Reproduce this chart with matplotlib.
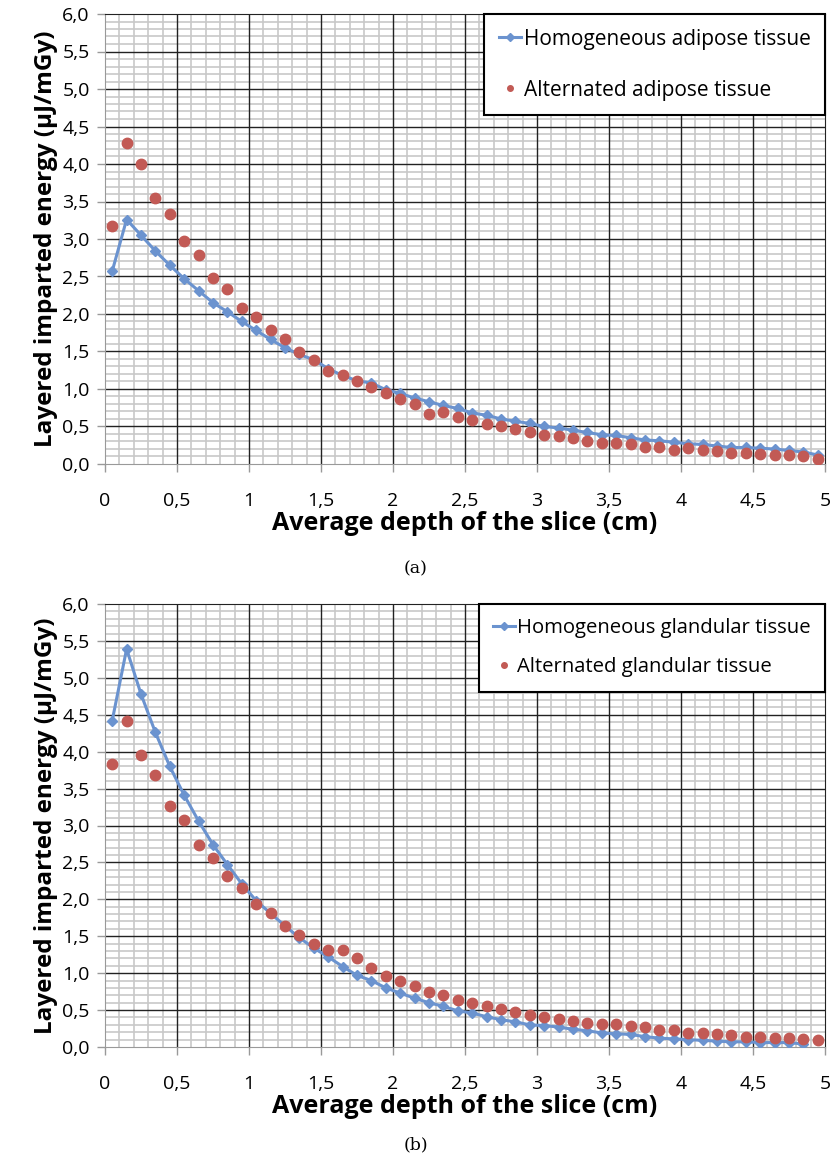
import numpy as np
import matplotlib
matplotlib.use("Agg")
import matplotlib.pyplot as plt
from matplotlib.ticker import MultipleLocator, FuncFormatter

plt.rcParams['font.family'] = ['Open Sans', 'DejaVu Sans']

# depth of each slice (cm)
depth = [0.05, 0.15, 0.25, 0.35, 0.45, 0.55, 0.65, 0.75, 0.85, 0.95,
         1.05, 1.15, 1.25, 1.35, 1.45, 1.55, 1.65, 1.75, 1.85, 1.95,
         2.05, 2.15, 2.25, 2.35, 2.45, 2.55, 2.65, 2.75, 2.85, 2.95,
         3.05, 3.15, 3.25, 3.35, 3.45, 3.55, 3.65, 3.75, 3.85, 3.95,
         4.05, 4.15, 4.25, 4.35, 4.45, 4.55, 4.65, 4.75, 4.85, 4.95]

# (a) adipose
homog_adipose = [2.57, 3.26, 3.05, 2.84, 2.65, 2.47, 2.31, 2.15, 2.03, 1.90,
                 1.78, 1.66, 1.55, 1.46, 1.39, 1.27, 1.18, 1.11, 1.08, 0.99,
                 0.94, 0.88, 0.83, 0.78, 0.74, 0.68, 0.65, 0.60, 0.57, 0.54,
                 0.50, 0.48, 0.45, 0.42, 0.39, 0.38, 0.35, 0.32, 0.31, 0.29,
                 0.27, 0.26, 0.24, 0.22, 0.22, 0.21, 0.20, 0.18, 0.16, 0.12]
alt_adipose = [3.17, 4.28, 4.00, 3.55, 3.34, 2.97, 2.78, 2.48, 2.34, 2.08,
               1.96, 1.78, 1.66, 1.49, 1.39, 1.24, 1.19, 1.10, 1.03, 0.95,
               0.87, 0.80, 0.67, 0.69, 0.63, 0.59, 0.53, 0.50, 0.47, 0.42,
               0.39, 0.37, 0.34, 0.30, 0.28, 0.28, 0.27, 0.23, 0.23, 0.19,
               0.21, 0.18, 0.17, 0.15, 0.15, 0.13, 0.12, 0.12, 0.10, 0.07]

# (b) glandular (homogeneous series stops at 4.85)
homog_glandular = [4.42, 5.39, 4.78, 4.26, 3.80, 3.41, 3.06, 2.74, 2.47, 2.21,
                   1.98, 1.81, 1.64, 1.48, 1.34, 1.22, 1.09, 0.97, 0.90, 0.80,
                   0.73, 0.66, 0.60, 0.55, 0.49, 0.46, 0.41, 0.37, 0.34, 0.30,
                   0.29, 0.27, 0.24, 0.22, 0.19, 0.18, 0.17, 0.14, 0.12, 0.11,
                   0.10, 0.09, 0.08, 0.07, 0.07, 0.06, 0.06, 0.06, 0.04]
alt_glandular = [3.83, 4.42, 3.95, 3.68, 3.27, 3.07, 2.73, 2.56, 2.31, 2.15,
                 1.94, 1.81, 1.64, 1.52, 1.40, 1.32, 1.31, 1.21, 1.07, 0.96,
                 0.89, 0.82, 0.75, 0.70, 0.63, 0.60, 0.55, 0.52, 0.47, 0.43,
                 0.40, 0.38, 0.35, 0.33, 0.31, 0.31, 0.28, 0.27, 0.23, 0.23,
                 0.19, 0.19, 0.18, 0.16, 0.14, 0.14, 0.12, 0.12, 0.11, 0.09]

blue = '#6b93cf'
red = '#c25a55'

fig = plt.figure(figsize=(8.33, 11.62), dpi=100)


def comma(v, nd):
    return (f"{v:.{nd}f}" if nd else f"{v:g}").replace('.', ',')


def panel(ax, homog, alt, lab_h, lab_a, leg_fs, leg_sp):
    ax.set_xlim(0, 5)
    ax.set_ylim(0, 6)
    ax.xaxis.set_major_locator(MultipleLocator(0.5))
    ax.xaxis.set_minor_locator(MultipleLocator(0.1))
    ax.yaxis.set_major_locator(MultipleLocator(0.5))
    ax.yaxis.set_minor_locator(MultipleLocator(0.1))
    ax.set_axisbelow(True)
    ax.grid(which='minor', color='#c8c8c8', lw=1.2)
    # major grid drawn on top of the minor one
    for v in np.arange(0.5, 5.0, 0.5):
        ax.axvline(v, color='#222222', lw=1.0, zorder=1)
    for v in np.arange(0.5, 6.0, 0.5):
        ax.axhline(v, color='#222222', lw=1.0, zorder=1)
    ax.xaxis.set_major_formatter(FuncFormatter(lambda v, p: comma(v, 0)))
    ax.yaxis.set_major_formatter(FuncFormatter(lambda v, p: comma(v, 1)))
    ax.tick_params(which='major', direction='out', length=6, width=1,
                   color='#999999', labelsize=14)
    ax.tick_params(axis='x', which='major', pad=14)
    ax.tick_params(axis='y', which='major', pad=5)
    ax.tick_params(which='minor', length=0)
    for s in ['left', 'bottom']:
        ax.spines[s].set_color('#999999')
    for s in ['top', 'right']:
        ax.spines[s].set_color('#222222')
    ax.plot(depth[:len(homog)], homog, color=blue, lw=2.2, marker='D',
            ms=5.5, label=lab_h, zorder=3)
    ax.plot(depth[:len(alt)], alt, ls='none', color=red, marker='o',
            ms=7.5, label=lab_a, zorder=4)
    ax.set_xlabel('Average depth of the slice (cm)', fontsize=18,
                  fontweight='bold', labelpad=1)
    ax.set_ylabel('Layered imparted energy (µJ/mGy)', fontsize=17.5,
                  fontweight='bold', labelpad=3)
    leg = ax.legend(loc='upper right', bbox_to_anchor=(1, 1), borderaxespad=0,
                    fontsize=leg_fs, fancybox=False, framealpha=1,
                    edgecolor='black', handlelength=1.1, handletextpad=0.1,
                    labelspacing=leg_sp, borderpad=0.7)
    leg.get_frame().set_linewidth(1.5)
    for h in leg.legend_handles:
        h.set_markersize(4)
    return leg


ax1 = fig.add_axes([105/833, 1-464/1162, 720/833, 450/1162])
panel(ax1, homog_adipose, alt_adipose,
      'Homogeneous adipose tissue', 'Alternated adipose tissue', 15, 1.45)
ax2 = fig.add_axes([105/833, 1-1047/1162, 720/833, 443/1162])
panel(ax2, homog_glandular, alt_glandular,
      'Homogeneous glandular tissue', 'Alternated glandular tissue', 14.6, 0.95)

fig.text(416/833, 1-569/1162, '(a)', family='DejaVu Serif', fontsize=12.5,
         ha='center', va='center')
fig.text(416/833, 1-1145/1162, '(b)', family='DejaVu Serif', fontsize=12.5,
         ha='center', va='center')

fig.savefig('out.png', dpi=100)
